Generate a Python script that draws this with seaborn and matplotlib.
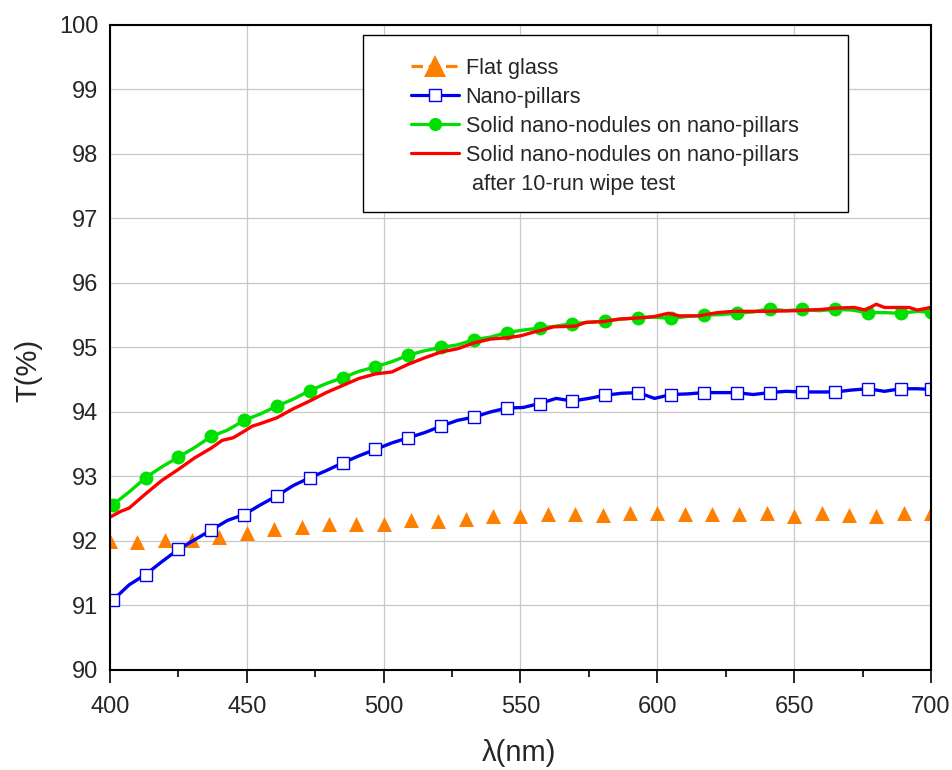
import numpy as np
import pandas as pd
import matplotlib
matplotlib.use("Agg")
import matplotlib.pyplot as plt
import seaborn as sns
from matplotlib.lines import Line2D
from matplotlib.patches import Rectangle
from matplotlib.ticker import MultipleLocator

# ---------------- data ----------------
flat_x = [400, 410, 420, 430, 440, 450, 460, 470, 480, 490, 500, 510, 520, 530, 540,
          550, 560, 570, 580, 590, 600, 610, 620, 630, 640, 650, 660, 670, 680, 690, 700]
flat_y = [92.00, 91.98, 92.01, 92.01, 92.06, 92.12, 92.19, 92.21, 92.27, 92.27, 92.26,
          92.32, 92.31, 92.34, 92.38, 92.39, 92.42, 92.42, 92.41, 92.44, 92.43, 92.42,
          92.42, 92.42, 92.43, 92.39, 92.43, 92.41, 92.39, 92.43, 92.44]

grid_x = [401, 407, 413, 419, 425, 431, 437, 443, 449, 455, 461, 467, 473, 479, 485,
          491, 497, 503, 509, 515, 521, 527, 533, 539, 545, 551, 557, 563, 569, 575,
          581, 587, 593, 599, 605, 611, 617, 623, 629, 635, 641, 647, 653, 659, 665,
          671, 677, 683, 689, 695, 700]
pillars_y = [91.08, 91.32, 91.48, 91.68, 91.87, 92.02, 92.17, 92.32, 92.41, 92.56, 92.70,
             92.86, 92.98, 93.09, 93.21, 93.32, 93.42, 93.52, 93.60, 93.68, 93.78, 93.87,
             93.92, 94.00, 94.06, 94.07, 94.13, 94.21, 94.17, 94.21, 94.26, 94.29, 94.30,
             94.21, 94.27, 94.28, 94.30, 94.30, 94.30, 94.27, 94.30, 94.32, 94.31, 94.31,
             94.31, 94.34, 94.36, 94.32, 94.36, 94.36, 94.35]
nodules_y = [92.56, 92.76, 92.98, 93.15, 93.30, 93.45, 93.62, 93.72, 93.87, 93.97, 94.09,
             94.20, 94.33, 94.44, 94.53, 94.63, 94.70, 94.78, 94.88, 94.95, 95.00, 95.04,
             95.12, 95.16, 95.23, 95.27, 95.30, 95.33, 95.37, 95.39, 95.41, 95.44, 95.46,
             95.47, 95.45, 95.48, 95.50, 95.51, 95.53, 95.55, 95.60, 95.57, 95.59, 95.57,
             95.59, 95.58, 95.54, 95.54, 95.53, 95.56, 95.55]

wipe_x = [400, 404, 407, 410, 413, 419, 425, 431, 437, 441, 445, 449, 452, 455, 461,
          467, 473, 479, 485, 491, 497, 503, 509, 515, 521, 527, 533, 539, 545, 550,
          555, 558, 562, 570, 574, 580, 586, 594, 599, 604, 608, 615, 622, 628, 640,
          650, 660, 665, 672, 676, 680, 683, 692, 695, 700]
wipe_y = [92.37, 92.46, 92.51, 92.62, 92.73, 92.94, 93.11, 93.29, 93.44, 93.56, 93.60,
          93.70, 93.78, 93.82, 93.91, 94.05, 94.17, 94.30, 94.41, 94.52, 94.59, 94.62,
          94.74, 94.84, 94.93, 94.98, 95.07, 95.13, 95.15, 95.18, 95.24, 95.27, 95.32,
          95.33, 95.39, 95.40, 95.44, 95.46, 95.48, 95.53, 95.49, 95.49, 95.54, 95.56,
          95.56, 95.57, 95.59, 95.61, 95.62, 95.58, 95.67, 95.62, 95.62, 95.58, 95.62]

labels = ["Flat glass", "Nano-pillars", "Solid nano-nodules on nano-pillars",
          "Solid nano-nodules on nano-pillars", " after 10-run wipe test"]
x_ticks = [400, 450, 500, 550, 600, 650, 700]
y_ticks = [90, 91, 92, 93, 94, 95, 96, 97, 98, 99, 100]

ORANGE = "#FF8000"
BLUE = "#0000F0"
GREEN = "#00E000"
RED = "#FF0000"

# ---------------- style ----------------
sns.set_theme(style="white")
plt.rcParams["font.family"] = ["Liberation Sans", "DejaVu Sans"]

fig = plt.figure(figsize=(9.53, 7.70), dpi=100)
ax = fig.add_axes([0.1154, 0.1299, 0.8615, 0.8377])

sns.scatterplot(x=flat_x, y=flat_y, marker="^", s=10.8 ** 2, color=ORANGE,
                linewidth=0, ax=ax, zorder=3, legend=False, clip_on=True)
sns.lineplot(x=grid_x, y=pillars_y, color=BLUE, lw=2.4, marker="s", markevery=2,
             markersize=8.3, markerfacecolor="white", markeredgecolor=BLUE,
             markeredgewidth=1.0, estimator=None, sort=False, ax=ax, zorder=4)
sns.lineplot(x=grid_x, y=nodules_y, color=GREEN, lw=2.4, marker="o", markevery=2,
             markersize=10, markerfacecolor=GREEN, markeredgecolor=GREEN,
             markeredgewidth=0, estimator=None, sort=False, ax=ax, zorder=4)
sns.lineplot(x=wipe_x, y=wipe_y, color=RED, lw=2.4, estimator=None, sort=False,
             ax=ax, zorder=4)

ax.set_xlim(400, 700)
ax.set_ylim(90, 100)
ax.set_xticks(x_ticks)
ax.set_yticks(y_ticks)
ax.xaxis.set_minor_locator(MultipleLocator(25))
ax.grid(True, which="major", color="#C8C8C8", lw=0.9)
ax.set_axisbelow(True)
for s in ax.spines.values():
    s.set_color("black")
    s.set_linewidth(1.5)
    s.set_zorder(6)

ax.tick_params(axis="x", which="major", direction="out", length=9, width=1.2,
               color="black", labelsize=17, pad=9.5, bottom=True)
ax.tick_params(axis="x", which="minor", direction="out", length=5, width=1.2,
               color="black", bottom=True)
ax.tick_params(axis="y", length=0, labelsize=17, pad=8.5)

ax.set_xlabel("λ(nm)", fontsize=21)
ax.set_ylabel("T(%)", fontsize=21)
ax.xaxis.set_label_coords(0.498, -0.129)
ax.xaxis.label.set_va("center")
ax.yaxis.set_label_coords(-0.100, 0.465)
ax.yaxis.label.set_va("center")

# legend
handles = [
    Line2D([], [], color=ORANGE, lw=2.3, ls=(0, (3.6, 1.8)), marker="^", ms=16,
           mew=0),
    Line2D([], [], color=BLUE, lw=2.3, marker="s", ms=8.3, mfc="white", mec=BLUE,
           mew=1.0),
    Line2D([], [], color=GREEN, lw=2.3, marker="o", ms=9.5, mfc=GREEN, mew=0),
    Line2D([], [], color=RED, lw=2.3),
    Line2D([], [], color="none", lw=0),
]
box = Rectangle((0.3078, 0.7106), 0.5915, 0.2744, transform=ax.transAxes,
                facecolor="white", edgecolor="black", lw=1.0, zorder=5)
ax.add_patch(box)
leg = ax.legend(handles, labels, loc="upper left", bbox_to_anchor=(0.3663, 0.949),
                frameon=False, fontsize=15.6, handlelength=2.22, handletextpad=0.32,
                labelspacing=0.37, borderpad=0, borderaxespad=0)
leg.set_zorder(7)

fig.savefig("out.png", dpi=100, facecolor="white")
